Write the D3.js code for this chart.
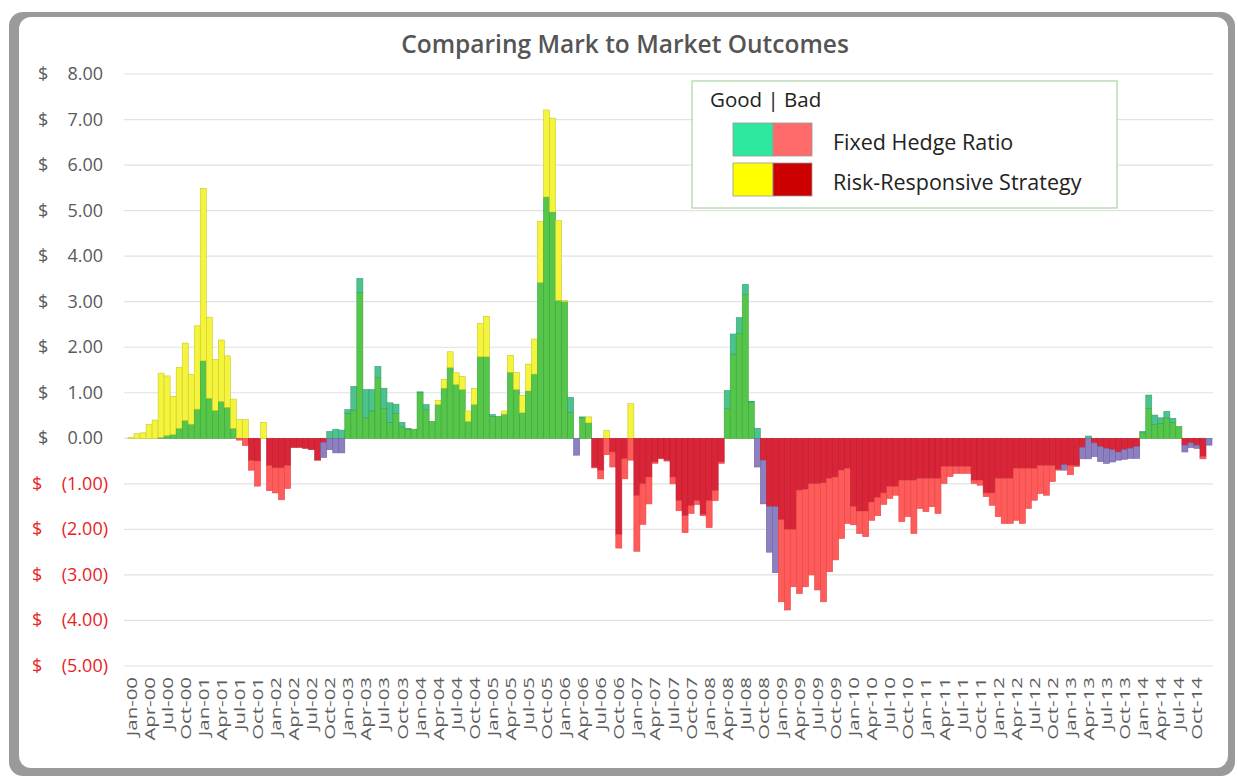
<!DOCTYPE html>
<html>
<head>
<meta charset="utf-8">
<title>Comparing Mark to Market Outcomes</title>
<script src="https://d3js.org/d3.v7.min.js"></script>
<style>
  body { margin: 0; background: #fff; }
  text { font-family: "Open Sans", Lato, sans-serif; }
  .ylab { font-size: 18px; }
  .xlab { font-size: 15px; fill: #5c5c5c; }
</style>
</head>
<body>
<script>
// month labels Jan-00 .. Dec-14 (tick text shows every 3rd)
var fmt = d3.timeFormat("%b-%y");
var months = d3.timeMonth.range(new Date(2000, 0, 1), new Date(2015, 0, 1)).map(fmt);

// Fixed Hedge Ratio, $ per month
var fixedHedge = [
  0, 0, 0, 0, 0, 0.02, 0.06, 0.08, 0.22, 0.39, 0.31, 0.64,
  1.7, 0.88, 0.61, 0.81, 0.68, 0.22, -0.04, -0.16, -0.7, -1.05, 0, -1.15,
  -1.2, -1.35, -1.1, -0.2, -0.2, -0.22, -0.25, -0.48, -0.09, 0.15, 0.2, 0.18,
  0.63, 1.14, 3.51, 1.07, 1.07, 1.58, 1.1, 0.78, 0.75, 0.35, 0.22, 0.2,
  1.02, 0.74, 0.37, 0.74, 1.1, 1.55, 1.18, 1.07, 0.37, 0.74, 1.79, 1.79,
  0.52, 0.48, 0.53, 1.45, 1.07, 0.56, 1.04, 1.41, 3.42, 5.3, 4.97, 3.03,
  3.0, 0.9, 0, 0.47, 0.34, -0.65, -0.89, -0.36, -0.63, -2.41, -0.89, -0.48,
  -2.48, -1.89, -1.44, -0.55, -0.45, -0.5, -1.0, -1.59, -2.07, -1.65, -1.45, -1.7,
  -1.96, -1.37, -0.55, 1.05, 2.29, 2.65, 3.38, 0.81, 0.22, -0.48, -1.5, -1.5,
  -3.59, -3.77, -3.26, -3.41, -3.26, -3.0, -3.33, -3.59, -2.93, -2.67, -2.2, -1.87,
  -1.9, -2.09, -2.16, -1.8, -1.7, -1.45, -1.32, -1.25, -1.83, -1.72, -2.09, -1.54,
  -1.61, -1.5, -1.65, -0.99, -0.84, -0.77, -0.77, -0.77, -0.99, -1.03, -1.28, -1.47,
  -1.72, -1.87, -1.87, -1.8, -1.87, -1.54, -1.36, -1.21, -1.25, -0.95, -0.7, -0.58,
  -0.8, -0.62, -0.2, 0.05, -0.1, -0.18, -0.22, -0.25, -0.3, -0.25, -0.22, -0.18,
  0.15, 0.95, 0.51, 0.45, 0.59, 0.44, 0.26, -0.15, -0.1, -0.15, -0.45, 0
];

// Risk-Responsive Strategy, $ per month
var riskResponsive = [
  0.02, 0.1, 0.12, 0.3, 0.4, 1.43, 1.37, 0.92, 1.56, 2.09, 1.4, 2.47,
  5.49, 2.66, 1.73, 2.16, 1.81, 0.86, 0.41, 0.41, -0.49, -0.5, 0.35, -0.6,
  -0.65, -0.65, -0.6, -0.2, -0.2, -0.22, -0.25, -0.48, -0.42, -0.25, -0.32, -0.32,
  0.55, 0.62, 3.2, 0.45, 0.6, 1.33, 0.65, 0.35, 0.55, 0.25, 0.2, 0.2,
  1.0, 0.63, 0.37, 0.83, 1.29, 1.9, 1.44, 1.36, 0.6, 1.1, 2.52, 2.68,
  0.48, 0.48, 0.6, 1.82, 1.45, 0.94, 1.63, 2.18, 4.76, 7.21, 7.03, 4.78,
  3.03, 0.57, -0.37, 0.45, 0.47, -0.63, -0.7, 0.17, -0.3, -2.11, -0.45, 0.76,
  -1.26, -1.0, -0.85, -0.52, -0.44, -0.48, -0.85, -1.37, -1.7, -1.48, -1.37, -1.67,
  -1.37, -1.15, -0.52, 0.65, 1.85, 2.3, 3.16, 0.8, -0.63, -1.44, -2.5, -2.95,
  -1.79, -2.0, -2.0, -1.14, -1.12, -1.0, -1.0, -0.98, -0.88, -0.85, -0.7, -0.66,
  -1.5, -1.6, -1.6, -1.4, -1.3, -1.2, -1.06, -1.06, -0.92, -0.92, -0.92, -0.88,
  -0.88, -0.88, -0.88, -0.62, -0.62, -0.62, -0.62, -0.62, -0.92, -0.92, -1.2, -1.2,
  -0.88, -0.88, -0.88, -0.66, -0.66, -0.66, -0.66, -0.6, -0.6, -0.6, -0.68, -0.7,
  -0.6, -0.6, -0.45, -0.45, -0.4, -0.51, -0.55, -0.52, -0.48, -0.46, -0.44, -0.44,
  0.12, 0.66, 0.3, 0.33, 0.45, 0.35, 0.26, -0.3, -0.2, -0.22, -0.4, -0.15
];

var yTicks = [8, 7, 6, 5, 4, 3, 2, 1, 0, -1, -2, -3, -4, -5];

var W = 1238, H = 782;
var svg = d3.select("body").append("svg").attr("width", W).attr("height", H);

// card with shadow
svg.append("rect").attr("x", 9).attr("y", 12).attr("width", 1226).attr("height", 764)
  .attr("rx", 14).attr("fill", "#9a9a9a");
svg.append("rect").attr("x", 19).attr("y", 17).attr("width", 1209).attr("height", 751)
  .attr("rx", 12).attr("fill", "#fff");

var x = d3.scaleBand().domain(months).range([128, 1212]).padding(0);
var y = d3.scaleLinear().domain([-5, 8]).range([666, 74]);

// gridlines
svg.append("g").selectAll("line").data(yTicks).enter().append("line")
  .attr("x1", 124).attr("x2", 1213)
  .attr("y1", function(d) { return y(d); }).attr("y2", function(d) { return y(d); })
  .attr("stroke", "#e2e2e2").attr("stroke-width", 1.2);

// y labels, accounting style: "$" on the left, number on the right
var yl = svg.append("g").selectAll("g").data(yTicks).enter().append("g")
  .attr("class", "ylab")
  .attr("fill", function(d) { return d < 0 ? "#e8231f" : "#5a5a5a"; });
yl.append("text")
  .attr("x", function(d) { return d < 0 ? 32 : 38; })
  .attr("y", function(d) { return y(d) + 6; })
  .text("$");
yl.append("text")
  .attr("x", function(d) { return d < 0 ? 108 : 103; })
  .attr("y", function(d) { return y(d) + 6; })
  .attr("text-anchor", "end")
  .text(function(d) {
    return d < 0 ? "(" + d3.format(".2f")(-d) + ")" : d3.format(".2f")(d);
  });

// split each month into coloured pieces (overlaps blend like the original)
var col = {
  both:   ["#55c64a", "#3aa33a"],
  yellow: ["#f4f43c", "#c9c92a"],
  teal:   ["#4cc28d", "#37a070"],
  crim:   ["#da2538", "#b81d2c"],
  salmon: ["#ff5b5b", "#e24747"],
  purple: ["#8e80c0", "#6f62a3"]
};
var pieces = [];
months.forEach(function(m, i) {
  var f = fixedHedge[i], r = riskResponsive[i];
  var fp = Math.max(f, 0), rp = Math.max(r, 0);
  var ov = Math.min(fp, rp);
  if (ov > 0) pieces.push({m: m, a: 0, b: ov, c: "both"});
  if (rp > fp) pieces.push({m: m, a: ov, b: rp, c: "yellow"});
  if (fp > rp) pieces.push({m: m, a: ov, b: fp, c: "teal"});
  var fn = Math.min(f, 0), rn = Math.min(r, 0);
  var on = Math.max(fn, rn);
  if (on < 0) pieces.push({m: m, a: on, b: 0, c: "crim"});
  if (fn < rn) pieces.push({m: m, a: fn, b: on, c: "salmon"});
  if (rn < fn) pieces.push({m: m, a: rn, b: on, c: "purple"});
});

svg.append("g").selectAll("rect").data(pieces).enter().append("rect")
  .attr("x", function(d) { return x(d.m); })
  .attr("width", x.bandwidth())
  .attr("y", function(d) { return y(Math.max(d.a, d.b)); })
  .attr("height", function(d) { return Math.abs(y(d.a) - y(d.b)); })
  .attr("fill", function(d) { return col[d.c][0]; })
  .attr("stroke", function(d) { return col[d.c][1]; })
  .attr("stroke-width", 0.6);

// x labels every 3 months (stretched along their length like the original)
var tickMonths = months.filter(function(d, i) { return i % 3 === 0; });
svg.append("g").selectAll("text").data(tickMonths).enter().append("text")
  .attr("class", "xlab")
  .attr("transform", function(d) {
    return "translate(" + (x(d) + x.bandwidth() / 2 + 5.5) + ",677) rotate(-90) scale(1.36,1)";
  })
  .attr("text-anchor", "end")
  .text(function(d) { return d; });

// title
svg.append("text").attr("x", 625).attr("y", 53).attr("text-anchor", "middle")
  .attr("font-size", 24.5).attr("font-weight", 600).attr("fill", "#555")
  .text("Comparing Mark to Market Outcomes");

// legend
var lg = svg.append("g");
lg.append("rect").attr("x", 692).attr("y", 81).attr("width", 425).attr("height", 127)
  .attr("fill", "#fff").attr("stroke", "#a9d6a0").attr("stroke-width", 1.2);
lg.append("text").attr("x", 710).attr("y", 107).attr("font-size", 20.5).attr("fill", "#222")
  .text("Good | Bad");
var legendRows = [
  {name: "Fixed Hedge Ratio", good: "#2ee89e", bad: "#ff6b6b", y: 123},
  {name: "Risk-Responsive Strategy", good: "#ffff00", bad: "#cc0000", y: 163}
];
legendRows.forEach(function(r) {
  lg.append("rect").attr("x", 733).attr("y", r.y).attr("width", 40).attr("height", 33)
    .attr("fill", r.good).attr("stroke", "#999").attr("stroke-width", 0.8);
  lg.append("rect").attr("x", 773).attr("y", r.y).attr("width", 39).attr("height", 33)
    .attr("fill", r.bad).attr("stroke", "#999").attr("stroke-width", 0.8);
  lg.append("text").attr("x", 833).attr("y", r.y + 27).attr("font-size", 21.5).attr("fill", "#222")
    .text(r.name);
});
</script>
</body>
</html>
